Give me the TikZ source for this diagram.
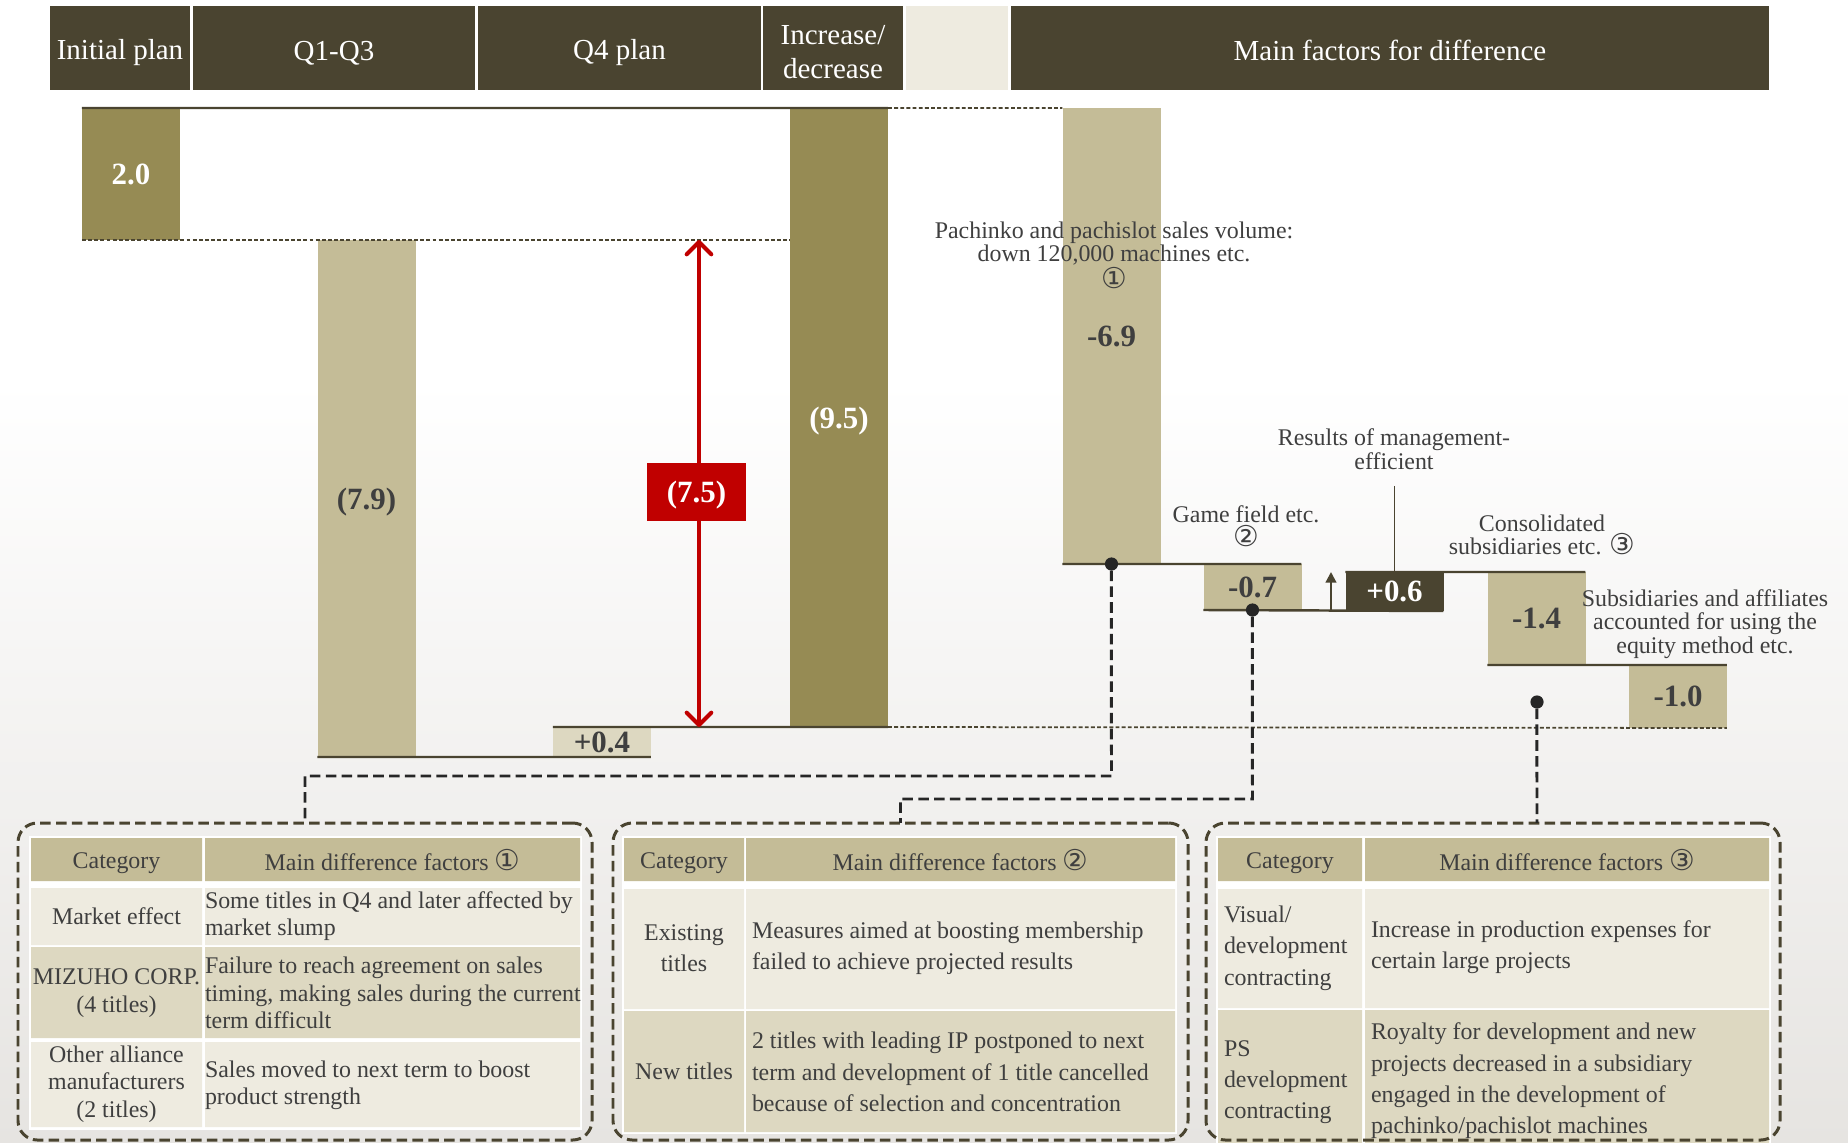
\documentclass[tikz,border=0pt]{standalone}
\usepackage{fontspec}
\setmainfont{Liberation Serif}
\newfontfamily\circfont{DejaVu Sans}[Scale=1.2]
\usetikzlibrary{arrows.meta}
\definecolor{hdrdark}{HTML}{4A4430}
\definecolor{barolive}{HTML}{968B54}
\definecolor{tan}{HTML}{C4BC97}
\definecolor{pale}{HTML}{DDD8C1}
\definecolor{cream}{HTML}{EEEBE0}
\definecolor{redbar}{HTML}{C00000}
\definecolor{txtgray}{HTML}{3F3F3F}
\definecolor{bggray}{HTML}{E6E4E1}
\newcommand{\cnum}[1]{{\circfont #1}}
\begin{document}
\begin{tikzpicture}[scale=0.2]
		\tikzstyle{every node}+=[inner sep=0pt, outer sep=0pt]
		\tikzstyle{hdr}=[fill=hdrdark, text=white, minimum height=1.68cm, align=center, font=\fontsize{16.5}{19.3}\selectfont]
		\tikzstyle{hdrtxt}=[text=white, align=center, font=\fontsize{16.5}{19.3}\selectfont]
		\tikzstyle{bar}=[minimum width=1.96cm, text=txtgray, text depth=0pt, font=\fontsize{17.6}{20}\selectfont\bfseries]
		\tikzstyle{barline}=[hdrdark, line width=1.4pt]
		\tikzstyle{refdash}=[hdrdark, line width=1pt, dash pattern=on 2.2pt off 1.3pt]
		\tikzstyle{notelbl}=[text=txtgray, align=center, font=\fontsize{13.6}{13.4}\selectfont]
		\tikzstyle{celltxt}=[text=txtgray, font=\fontsize{13.6}{15.6}\selectfont]
		\tikzstyle{widetxt}=[text=txtgray, font=\fontsize{13.6}{17.8}\selectfont]
		\tikzstyle{factbox}=[draw=hdrdark, line width=1.7pt, dash pattern=on 6pt off 3pt, rounded corners=11pt, minimum height=6.34cm]
		\tikzstyle{conn}=[draw=black!85, line width=1.7pt, dash pattern=on 6pt off 3pt]
		\tikzstyle{dotnode}=[circle, fill=black!85, minimum size=7.5pt]
		\tikzstyle{gaparrow}=[redbar, line width=2.3pt, line cap=round, arrows={Straight Barb[round, length=7pt, width=14pt]-Straight Barb[round, length=7pt, width=14pt]}]
		\useasboundingbox (0,0) rectangle (184.8,-114.3);
		\fill [white] (0,0) rectangle (184.8,-114.3);
		\shade [top color=white, bottom color=bggray] (0,-38) rectangle (184.8,-114.3);
		\node [hdr, minimum width=2.8cm] (hinit) at (12.0,-4.8) {};
		\node [hdr, minimum width=5.64cm] (hq13) at (33.4,-4.8) {};
		\node [hdr, minimum width=5.66cm] (hq4) at (61.95,-4.8) {};
		\node [hdr, minimum width=2.8cm] (hinc) at (83.3,-4.8) {};
		\node [hdr, fill=cream, minimum width=2.04cm] (hgap) at (95.7,-4.8) {};
		\node [hdr, minimum width=15.16cm] (hmain) at (139.0,-4.8) {};
		\node [hdrtxt] (hinitlbl) at (12.0,-5.3) {Initial plan};
		\node [hdrtxt] (hq13lbl) at (33.4,-5.3) {Q1-Q3};
		\node [hdrtxt] (hq4lbl) at (61.95,-5.3) {Q4 plan};
		\node [hdrtxt] (hinclbl) at (83.3,-5.2) {Increase/\\decrease};
		\node [hdrtxt] (hmainlbl) at (139.0,-5.0) {Main factors for difference};
		\node [bar, fill=barolive, text=white, minimum height=2.64cm] (bar20) at (13.1,-17.4) {2.0};
		\node [bar, fill=tan, minimum height=10.34cm] (bar79) at (36.65,-49.85) {(7.9)};
		\node [bar, fill=pale, minimum height=0.6cm] (bar04) at (60.2,-74.2) {+0.4};
		\node [bar, fill=barolive, text=white, minimum height=12.38cm] (bar95) at (83.9,-41.75) {(9.5)};
		\node [bar, fill=tan, minimum height=9.12cm] (bar69) at (111.15,-33.6) {-6.9};
		\node [bar, fill=tan, minimum height=0.92cm] (bar07) at (125.25,-58.7) {-0.7};
		\node [bar, fill=hdrdark, text=white, minimum height=0.78cm] (bar06) at (139.45,-59.15) {+0.6};
		\node [bar, fill=tan, minimum height=1.86cm] (bar14) at (153.65,-61.85) {-1.4};
		\node [bar, fill=tan, minimum height=1.26cm] (bar10) at (167.8,-69.65) {-1.0};
		\draw [barline] (bar20.north west) -- (bar95.north east);
		\draw [barline] (bar79.south west) -- (bar04.south east);
		\draw [barline] (bar04.north west) -- (bar95.south east);
		\draw [barline] (bar69.south west) -- (bar07.north east);
		\draw [barline] (bar07.south west) -- (bar06.south east);
		\draw [barline] (bar06.north west) -- (bar14.north east);
		\draw [barline] (bar14.south west) -- (bar10.north east);
		\draw [refdash] (bar95.north east) -- (bar69.north west);
		\draw [refdash] (bar20.south west) -- (bar95.west |- bar20.south);
		\draw [refdash] (bar95.south east) -- (bar10.south east);
		\coordinate (gaptop) at (69.9,-24.0);
		\coordinate (gapbot) at (69.9,-72.7);
		\draw [gaparrow] (gaptop) -- (gapbot);
		\node [bar, fill=redbar, text=white, minimum width=1.98cm, minimum height=1.16cm] (gapbox) at (69.65,-49.2) {(7.5)};
		\coordinate (upfoot) at (133.1,-61.0);
		\coordinate (uptip) at (133.1,-57.2);
		\draw [hdrdark, line width=1.2pt, -{Triangle[length=6pt, width=6pt]}] (upfoot) -- (uptip);
		\coordinate (reslead) at (139.45,-48.6);
		\draw [hdrdark, line width=1pt] (reslead) -- (bar06.north);
		\node [notelbl] (pachinote) at (111.4,-25.5) {Pachinko and pachislot sales volume:\\down 120,000 machines etc.\\\cnum{①}};
		\node [notelbl] (gamenote) at (124.6,-52.6) {Game field etc.\\\cnum{②}};
		\node [notelbl] (resnote) at (139.4,-44.9) {Results of management-\\efficient};
		\node [notelbl] (consnote) at (154.2,-53.5) {Consolidated\\subsidiaries etc. \cnum{③}};
		\node [notelbl] (subsnote) at (170.5,-62.4) {Subsidiaries and affiliates\\accounted for using the\\equity method etc.};
		\fill [white] (2.9,-83.6) rectangle (58.2,-113.0);
		\fill [tan] (3.1,-83.8) rectangle (20.2,-88.1) (20.5,-83.8) rectangle (58.0,-88.1);
		\fill [cream] (3.1,-88.8) rectangle (20.2,-94.5) (20.5,-88.8) rectangle (58.0,-94.5);
		\fill [pale] (3.1,-94.7) rectangle (20.2,-103.8) (20.5,-94.7) rectangle (58.0,-103.8);
		\fill [cream] (3.1,-104.2) rectangle (20.2,-112.7) (20.5,-104.2) rectangle (58.0,-112.7);
		\node [celltxt] (t1h1) at (11.65,-86.3) {Category};
		\node [celltxt] (t1h2) at (39.25,-86.0) {Main difference factors \cnum{①}};
		\node [celltxt] (t1a1) at (11.65,-91.6) {Market effect};
		\node [celltxt, align=left, anchor=west] (t1a2) at (20.5,-91.6) {Some titles in Q4 and later affected by\\market slump};
		\node [celltxt, align=center] (t1b1) at (11.65,-99.3) {MIZUHO CORP.\\(4 titles)};
		\node [celltxt, align=left, anchor=west] (t1b2) at (20.5,-99.3) {Failure to reach agreement on sales\\timing, making sales during the current\\term difficult};
		\node [celltxt, align=center] (t1c1) at (11.65,-108.4) {Other alliance\\manufacturers\\(2 titles)};
		\node [celltxt, align=left, anchor=west] (t1c2) at (20.5,-108.5) {Sales moved to next term to boost\\product strength};
		\fill [white] (62.2,-83.6) rectangle (117.7,-113.4);
		\fill [tan] (62.4,-83.8) rectangle (74.4,-88.1) (74.6,-83.8) rectangle (117.5,-88.1);
		\fill [cream] (62.4,-88.9) rectangle (74.4,-100.9) (74.6,-88.9) rectangle (117.5,-100.9);
		\fill [pale] (62.4,-101.1) rectangle (74.4,-113.2) (74.6,-101.1) rectangle (117.5,-113.2);
		\node [celltxt] (t2h1) at (68.4,-86.3) {Category};
		\node [celltxt] (t2h2) at (96.05,-86.0) {Main difference factors \cnum{②}};
		\node [widetxt, align=center] (t2a1) at (68.4,-94.8) {Existing\\titles};
		\node [widetxt, align=left, anchor=west] (t2a2) at (75.2,-94.8) {Measures aimed at boosting membership\\failed to achieve projected results};
		\node [widetxt] (t2b1) at (68.4,-107.1) {New titles};
		\node [widetxt, align=left, anchor=west] (t2b2) at (75.2,-107.2) {2 titles with leading IP postponed to next\\term and development of 1 title cancelled\\because of selection and concentration};
		\fill [white] (121.6,-83.6) rectangle (177.1,-114.3);
		\fill [tan] (121.8,-83.8) rectangle (136.2,-88.1) (136.5,-83.8) rectangle (176.9,-88.1);
		\fill [cream] (121.8,-88.9) rectangle (136.2,-100.8) (136.5,-88.9) rectangle (176.9,-100.8);
		\fill [pale] (121.8,-101.0) rectangle (136.2,-114.3) (136.5,-101.0) rectangle (176.9,-114.3);
		\node [celltxt] (t3h1) at (129.0,-86.3) {Category};
		\node [celltxt] (t3h2) at (156.7,-86.0) {Main difference factors \cnum{③}};
		\node [widetxt, align=left, anchor=west] (t3a1) at (122.4,-94.8) {Visual/\\development\\contracting};
		\node [widetxt, align=left, anchor=west] (t3a2) at (137.1,-94.7) {Increase in production expenses for\\certain large projects};
		\node [widetxt, align=left, anchor=west] (t3b1) at (122.4,-108.2) {PS\\development\\contracting};
		\node [widetxt, align=left, anchor=west] (t3b2) at (137.1,-108.1) {Royalty for development and new\\projects decreased in a subsidiary\\engaged in the development of\\pachinko/pachislot machines};
		\node [factbox, minimum width=11.48cm] (box1) at (30.5,-98.15) {};
		\node [factbox, minimum width=11.5cm] (box2) at (90.05,-98.15) {};
		\node [factbox, minimum width=11.48cm] (box3) at (149.3,-98.15) {};
		\node [dotnode] (dot1) at (bar69.south) {};
		\node [dotnode] (dot2) at (bar07.south) {};
		\node [dotnode] (dot3) at (153.7,-70.2) {};
		\coordinate (j1) at (111.15,-77.6);
		\coordinate (j2) at (125.25,-79.9);
		\draw [conn] (dot1) -- (j1) -| (box1.north);
		\draw [conn] (dot2) -- (j2) -| (box2.north);
		\draw [conn] (dot3) -- (dot3 |- box3.north);
\end{tikzpicture}
\end{document}
